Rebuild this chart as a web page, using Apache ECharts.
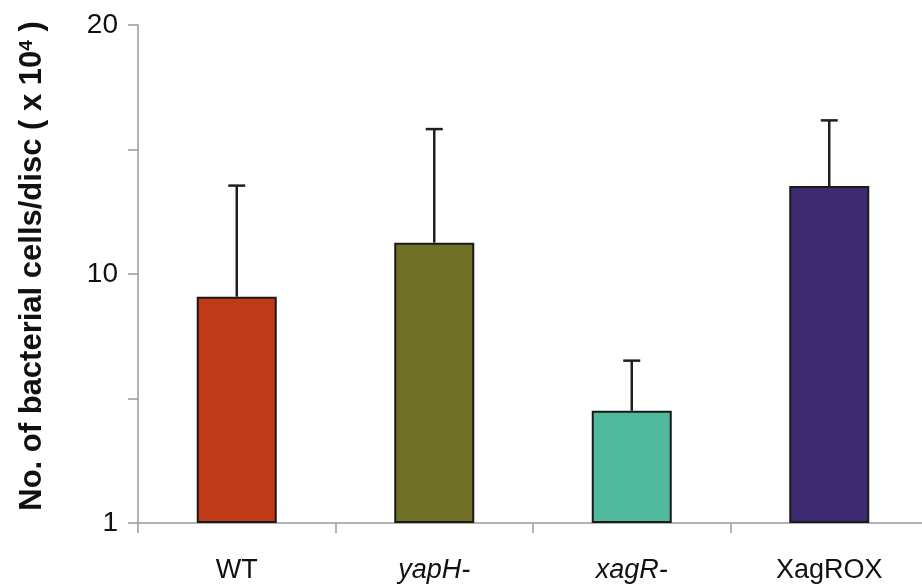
<!DOCTYPE html>
<html>
<head>
<meta charset="utf-8">
<script src="https://cdn.jsdelivr.net/npm/echarts@6/dist/echarts.min.js"></script>
<style>
  html, body { margin: 0; padding: 0; background: #fff; }
  #chart { width: 922px; height: 588px; }
</style>
</head>
<body>
<div id="chart"></div>
<script>
// Strains on the x axis
const strains = ['WT', 'yapH-', 'xagR-', 'XagROX'];
// Mean bacterial count per disc (x 10^4)
const meanCount = [9.09, 11.26, 4.51, 13.53];
// Upper error (standard deviation)
const errorUp = [4.46, 4.56, 2.01, 2.64];
// Bar fill colours
const barColors = ['#c03a17', '#6f7024', '#50b99d', '#3e2a70'];
// Y-axis tick labels, one per tick step
const yTickLabels = ['1', '', '10', '', '20'];
// Strain names set in italics
const italicStrains = ['yapH-', 'xagR-'];

const FONT = '"Liberation Sans", Arial, Helvetica, sans-serif';

const chart = echarts.init(document.getElementById('chart'), null, { renderer: 'canvas' });

chart.setOption({
  animation: false,
  backgroundColor: '#ffffff',
  grid: { left: 138, top: 25, width: 790, bottom: 65, containLabel: false, outerBoundsMode: 'none' },
  xAxis: {
    type: 'category',
    data: strains,
    boundaryGap: true,
    axisLine: { show: true, lineStyle: { color: '#9a9a9a', width: 1.5 } },
    axisTick: { show: true, alignWithLabel: false, length: 10, lineStyle: { color: '#9a9a9a', width: 1.5 } },
    axisLabel: {
      margin: 34,
      color: '#111',
      fontFamily: FONT,
      fontSize: 27,
      formatter: function (v) {
        return italicStrains.indexOf(v) >= 0 ? '{it|' + v + '}' : v;
      },
      rich: {
        it: { fontStyle: 'italic', fontFamily: FONT, fontSize: 27, color: '#111' }
      }
    },
    splitLine: { show: false }
  },
  yAxis: {
    type: 'value',
    min: 0,
    max: 20,
    interval: 5,
    name: 'No. of bacterial cells/disc ( x 10{sup|4} )',
    nameLocation: 'middle',
    nameGap: 90,
    nameTextStyle: {
      fontFamily: FONT,
      fontSize: 31,
      fontWeight: 'bold',
      color: '#111',
      padding: [0, 0, 0, 16],
      rich: {
        sup: { fontFamily: FONT, fontSize: 19, fontWeight: 'bold', color: '#111', verticalAlign: 'top', padding: [0, 0, 12, 0] }
      }
    },
    axisLine: { show: true, lineStyle: { color: '#9a9a9a', width: 1.5 } },
    axisTick: { show: true, length: 10, lineStyle: { color: '#9a9a9a', width: 1.5 } },
    axisLabel: {
      margin: 20,
      color: '#111',
      fontFamily: FONT,
      fontSize: 28,
      formatter: function (v) {
        return yTickLabels[Math.round(v / 5)];
      }
    },
    splitLine: { show: false }
  },
  series: [
    {
      type: 'bar',
      barWidth: 80,
      data: meanCount.map(function (v, i) {
        return {
          value: v,
          itemStyle: { color: barColors[i], borderColor: '#1a1a1a', borderWidth: 2 }
        };
      }),
      z: 2
    },
    {
      type: 'custom',
      z: 1,
      data: meanCount.map(function (v, i) { return [i, v, v + errorUp[i]]; }),
      renderItem: function (params, api) {
        const base = api.coord([api.value(0), api.value(1)]);
        const top = api.coord([api.value(0), api.value(2)]);
        const half = 8.5;
        const style = { stroke: '#1f1f1f', lineWidth: 2.5 };
        return {
          type: 'group',
          children: [
            { type: 'line', shape: { x1: base[0], y1: base[1], x2: top[0], y2: top[1] }, style: style },
            { type: 'line', shape: { x1: top[0] - half, y1: top[1], x2: top[0] + half, y2: top[1] }, style: style }
          ]
        };
      }
    }
  ]
});
</script>
</body>
</html>
